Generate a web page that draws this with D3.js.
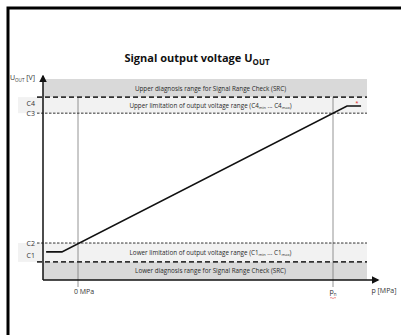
<!DOCTYPE html>
<html><head><meta charset="utf-8">
<script src="https://cdn.jsdelivr.net/npm/d3@7"></script>
<style>body{margin:0;background:#fff}svg{display:block}text{font-family:"Open Sans","Liberation Sans",sans-serif}</style>
</head><body><svg id="c" width="401" height="335"></svg>
<script>
// ---- data ----
const levelNames = ["C1","C2","C3","C4"];
const levelValues = [0.45, 0.92, 4.15, 4.55];     // U [V]
const topLimit = 5.0;                               // top of upper diagnosis range
const linePressure = [-12.5, -6.3, 105.5, 111];    // p [% of pn]
const lineVoltage  = [0.70, 0.70, 4.33, 4.33];     // U [V]
const pressureTicks = [0, 100];
const pressureTickLabels = ["0 MPa", "pn"];
const bandTexts = [
  "Upper diagnosis range for Signal Range Check (SRC)",
  "Upper limitation of output voltage range",
  "Lower limitation of output voltage range",
  "Lower diagnosis range for Signal Range Check (SRC)"
];

const svg = d3.select("#c");
const x = d3.scaleLinear().domain([0, 100]).range([78, 333]);
const y = d3.scaleLinear().domain([0, topLimit]).range([280, 79]);
const xMin = x.invert(43), xMax = x.invert(378), bandEnd = x.invert(367);
const C = {}; levelNames.forEach((n,i)=>C[n]=levelValues[i]);

// frame
svg.append("path").attr("d","M8,335 V8 H401").attr("fill","none").attr("stroke","#000").attr("stroke-width",3);

// title
const t = svg.append("text").attr("x",197).attr("y",62).attr("text-anchor","middle")
  .attr("font-size",11).attr("font-weight","bold").attr("fill","#111");
t.append("tspan").text("Signal output voltage U");
t.append("tspan").attr("font-size",8).attr("dy",3).text("OUT");

// bands
svg.append("rect").attr("x",x(xMin)).attr("width",x(bandEnd)-x(xMin)).attr("y",y(topLimit)).attr("height",y(C.C4)-y(topLimit)).attr("fill","#d9d9d9");
svg.append("rect").attr("x",18).attr("width",x(bandEnd)-18).attr("y",y(C.C4)).attr("height",y(C.C3)-y(C.C4)).attr("fill","#f2f2f2");
svg.append("rect").attr("x",18).attr("width",x(bandEnd)-18).attr("y",y(C.C2)).attr("height",y(C.C1)-y(C.C2)).attr("fill","#f2f2f2");
svg.append("rect").attr("x",x(xMin)).attr("width",x(bandEnd)-x(xMin)).attr("y",y(C.C1)).attr("height",y(0)-y(C.C1)).attr("fill","#d9d9d9");

// vertical reference lines
pressureTicks.forEach(p=>{
  svg.append("line").attr("x1",x(p)).attr("x2",x(p)).attr("y1",y(C.C4)).attr("y2",287).attr("stroke","#7a7a7a").attr("stroke-width",0.8);
});

// dashed level lines
[["C4",1.6,"5,3"],["C1",1.6,"5,3"],["C3",1,"2.5,1.5"],["C2",1,"2.5,1.5"]].forEach(([n,w,d])=>{
  svg.append("line").attr("x1",37).attr("x2",x(bandEnd)).attr("y1",y(C[n])).attr("y2",y(C[n]))
    .attr("stroke","#333").attr("stroke-width",w).attr("stroke-dasharray",d);
});

// band texts
const tx = x(50)+5;
function bandText(yv, txt, sub){
  const e = svg.append("text").attr("x",tx).attr("y",yv).attr("text-anchor","middle").attr("font-size",6.3).attr("fill","#2a2a2a");
  e.append("tspan").text(txt);
  if(sub){
    e.append("tspan").text(" ("+sub);
    e.append("tspan").attr("font-size",4).attr("dy",1.5).text("min");
    e.append("tspan").attr("dy",-1.5).text(" ... "+sub);
    e.append("tspan").attr("font-size",4).attr("dy",1.5).text("max");
    e.append("tspan").attr("dy",-1.5).text(")");
  }
}
bandText((y(topLimit)+y(C.C4))/2+2.5, bandTexts[0]);
bandText((y(C.C4)+y(C.C3))/2+2.5, bandTexts[1], "C4");
bandText((y(C.C2)+y(C.C1))/2+2.5, bandTexts[2], "C1");
bandText((y(C.C1)+y(0))/2+2.5, bandTexts[3]);

// level labels
levelNames.forEach((n,i)=>{
  const dy = n==="C4" ? 6 : n==="C1" ? -6 : 0;
  svg.append("text").attr("x",35).attr("y",y(levelValues[i])+2.5+dy).attr("text-anchor","end")
    .attr("font-size",7).attr("fill","#333").text(n);
});

// signal line
const pts = linePressure.map((p,i)=>[x(p), y(lineVoltage[i])]);
svg.append("path").attr("d",d3.line()(pts)).attr("fill","none").attr("stroke","#111").attr("stroke-width",1.6);
svg.append("text").attr("x",357).attr("y",105).attr("text-anchor","middle").attr("font-size",6).attr("fill","#d22").text("*");

// axes
const defs = svg.append("defs");
defs.append("marker").attr("id","arr").attr("viewBox","0 0 10 10").attr("refX",8).attr("refY",5)
  .attr("markerWidth",5).attr("markerHeight",5).attr("orient","auto")
  .append("path").attr("d","M0,0 L10,5 L0,10 z").attr("fill","#111");
svg.append("line").attr("x1",x(xMin)).attr("x2",x(xMin)).attr("y1",y(0)).attr("y2",76)
  .attr("stroke","#111").attr("stroke-width",1.5).attr("marker-end","url(#arr)");
svg.append("line").attr("x1",x(xMin)).attr("x2",x(xMax)).attr("y1",y(0)).attr("y2",y(0))
  .attr("stroke","#111").attr("stroke-width",1.5).attr("marker-end","url(#arr)");

// axis labels
const ul = svg.append("text").attr("x",10).attr("y",80).attr("font-size",7).attr("fill","#333");
ul.append("tspan").text("U");
ul.append("tspan").attr("font-size",4.5).attr("dy",1.5).text("OUT");
ul.append("tspan").attr("dy",-1.5).text(" [V]");
svg.append("text").attr("x",384).attr("y",293).attr("text-anchor","middle").attr("font-size",7).attr("fill","#333").text("p [MPa]");

// tick labels
pressureTicks.forEach((p,i)=>{
  const e = svg.append("text").attr("x",x(p)+(i?0:6)).attr("y",294).attr("text-anchor","middle").attr("font-size",7).attr("fill","#333");
  if(pressureTickLabels[i]==="pn"){
    e.append("tspan").text("p");
    e.append("tspan").attr("font-size",4.5).attr("dy",1.5).text("n");
    svg.append("path").attr("d",`M${x(p)-3},298 q1,-1 2,0 t2,0 t2,0`).attr("fill","none").attr("stroke","#d22").attr("stroke-width",0.5);
  } else e.text(pressureTickLabels[i]);
});
</script></body></html>
